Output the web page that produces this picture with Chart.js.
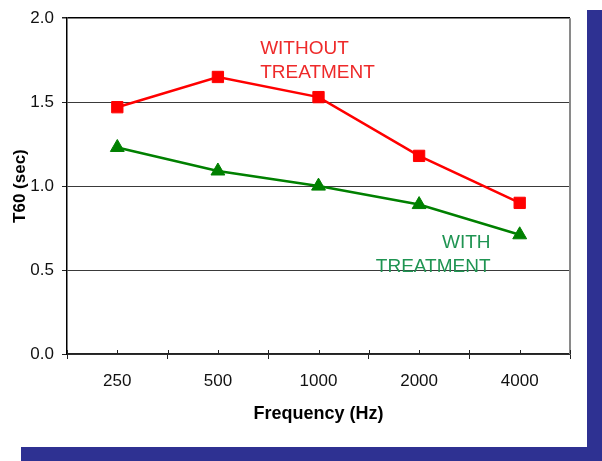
<!DOCTYPE html>
<html>
<head>
<meta charset="utf-8">
<script src="https://cdn.jsdelivr.net/npm/chart.js@4/dist/chart.umd.min.js"></script>
<style>
  html, body { margin: 0; padding: 0; background: #fff; }
  #wrap { position: relative; width: 602px; height: 461px; overflow: hidden; }
  #chart { position: absolute; left: 0; top: 0; }
  .bar { position: absolute; background: #2e3192; }
</style>
</head>
<body>
<div id="wrap">
  <canvas id="chart" width="602" height="461"></canvas>
  <div class="bar" style="left:587px; top:10px; width:15px; height:451px;"></div>
  <div class="bar" style="left:21px; top:447px; width:581px; height:14px;"></div>
</div>
<script>
(function () {
  "use strict";

  const frequencies = ["250", "500", "1000", "2000", "4000"];
  const withoutTreatment = [1.47, 1.65, 1.53, 1.18, 0.90];
  const withTreatment = [1.23, 1.09, 1.00, 0.89, 0.71];
  const yTicks = [0, 0.5, 1.0, 1.5, 2.0];

  const RED = "#ff0000";
  const GREEN = "#008000";
  const FONT = "'Liberation Sans', Arial, sans-serif";

  // notes drawn inside the plot: category position + value for each text baseline
  const notes = [
    {lines: ["WITHOUT", "TREATMENT"], cat: 1.42, values: [1.786, 1.643], align: "left", color: "#ee2a2a"},
    {lines: ["WITH", "TREATMENT"], cat: 3.71, values: [0.631, 0.488], align: "right", color: "#1f9452"},
  ];

  const extras = {
    id: "extras",
    afterDraw(chart) {
      const {ctx, chartArea, scales} = chart;
      const x = scales.x;
      const y = scales.y;
      ctx.save();
      // right frame edge
      ctx.strokeStyle = "#8a8a8a";
      ctx.lineWidth = 2;
      ctx.beginPath();
      ctx.moveTo(chartArea.right, chartArea.top);
      ctx.lineTo(chartArea.right, chartArea.bottom);
      ctx.stroke();
      // short inner ticks on the category axis
      ctx.strokeStyle = "#222";
      ctx.lineWidth = 1;
      const step = x.getPixelForValue(1) - x.getPixelForValue(0);
      for (let i = 0; i <= frequencies.length; i++) {
        const pos = [x.getPixelForValue(i) - step / 2, x.getPixelForValue(i)];
        pos.forEach((px) => {
          ctx.beginPath();
          ctx.moveTo(Math.round(px) + 0.5, chartArea.bottom);
          ctx.lineTo(Math.round(px) + 0.5, chartArea.bottom - 4);
          ctx.stroke();
        });
      }
      // text notes
      ctx.font = "19px " + FONT;
      ctx.textBaseline = "alphabetic";
      notes.forEach((note) => {
        const px = x.getPixelForValue(0) + note.cat * step;
        ctx.fillStyle = note.color;
        ctx.textAlign = note.align;
        note.lines.forEach((line, i) => {
          ctx.fillText(line, px, y.getPixelForValue(note.values[i]));
        });
      });
      ctx.restore();
    },
  };

  new Chart(document.getElementById("chart"), {
    type: "line",
    data: {
      labels: frequencies,
      datasets: [
        {
          label: "Without treatment",
          data: withoutTreatment,
          borderColor: RED,
          backgroundColor: RED,
          borderWidth: 2.5,
          pointStyle: "rect",
          pointRadius: 8,
          pointBorderWidth: 1,
          tension: 0,
        },
        {
          label: "With treatment",
          data: withTreatment,
          borderColor: GREEN,
          backgroundColor: GREEN,
          borderWidth: 2.5,
          pointStyle: "triangle",
          pointRadius: 8,
          pointBorderWidth: 1,
          tension: 0,
        },
      ],
    },
    options: {
      responsive: false,
      animation: false,
      events: [],
      layout: {padding: {left: 0, top: 18, right: 32, bottom: 0}},
      plugins: {legend: {display: false}, tooltip: {enabled: false}},
      scales: {
        x: {
          type: "category",
          offset: true,
          afterFit: (scale) => { scale.height = 107; },
          grid: {
            offset: true,
            drawOnChartArea: false,
            drawTicks: true,
            tickLength: 5,
            color: "#222",
          },
          border: {color: "#222", width: 1.5},
          ticks: {
            color: "#111",
            padding: 12,
            maxRotation: 0,
            font: {family: FONT, size: 17},
          },
          title: {
            display: true,
            text: "Frequency (Hz)",
            color: "#000",
            padding: {top: 0, bottom: 36},
            font: {family: FONT, size: 18, weight: "bold"},
          },
        },
        y: {
          min: 0,
          max: 2,
          afterFit: (scale) => { scale.width = 67; },
          afterBuildTicks: (scale) => { scale.ticks = yTicks.map((v) => ({value: v})); },
          grid: {
            color: (c) => (c.tick && c.tick.value === 2 ? "#000" : "#3a3a3a"),
            lineWidth: (c) => (c.tick && c.tick.value === 2 ? 1.5 : 1),
            tickLength: 5,
            tickColor: "#222",
          },
          border: {color: "#000", width: 1.5},
          ticks: {
            color: "#111",
            padding: 8,
            font: {family: FONT, size: 17},
            callback: (v) => Number(v).toFixed(1),
          },
          title: {
            display: true,
            text: "T60 (sec)",
            color: "#000",
            padding: {top: 10, bottom: 0},
            font: {family: FONT, size: 17, weight: "bold"},
          },
        },
      },
    },
    plugins: [extras],
  });
})();
</script>
</body>
</html>
